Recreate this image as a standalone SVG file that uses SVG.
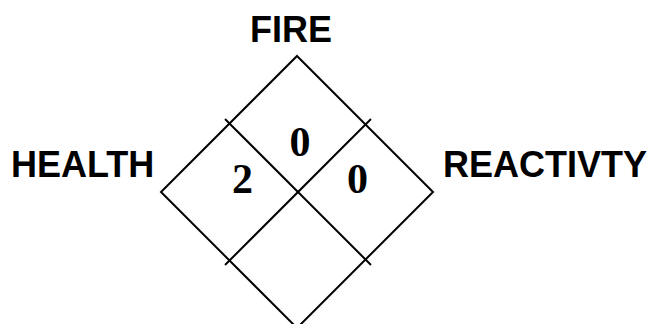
<svg xmlns="http://www.w3.org/2000/svg" width="654" height="324" viewBox="0 0 654 324">
<style>
.lbl{font-family:"Liberation Sans",Arial,sans-serif;font-weight:bold;font-size:36px;fill:#000}
.num{font-family:"Liberation Serif","Times New Roman",serif;font-weight:bold;font-size:42px;fill:#000}
.ln{stroke:#000;stroke-width:2;fill:none}
</style>
<rect width="654" height="324" fill="#fff"/>
<g id="diamond">
<polygon class="ln" points="297,56 433,192 297,328 161,192"/>
</g>
<g id="connectors">
<line class="ln" x1="225" y1="119" x2="371" y2="265"/>
<line class="ln" x1="371" y1="119" x2="225" y2="265"/>
</g>
<g id="fire"><text class="lbl" x="250" y="42">FIRE</text><text class="num" x="300" y="156" text-anchor="middle">0</text></g>
<g id="health"><text class="lbl" x="11" y="177">HEALTH</text><text class="num" x="242.5" y="193" text-anchor="middle">2</text></g>
<g id="reactivity"><text class="lbl" x="443" y="177">REACTIVTY</text><text class="num" x="357.5" y="193" text-anchor="middle">0</text></g>
</svg>
